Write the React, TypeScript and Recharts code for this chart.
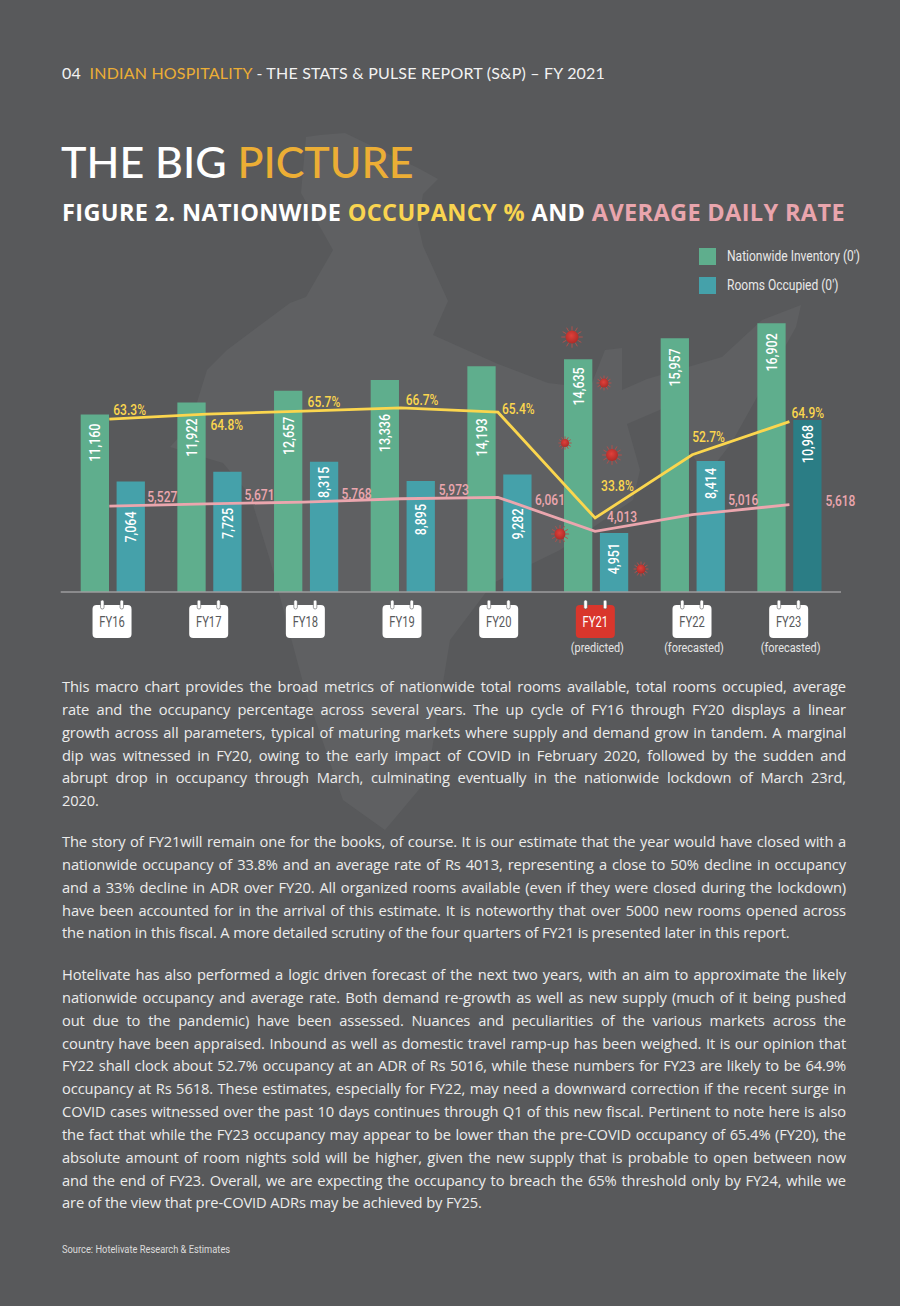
import { Bar, Cell, ComposedChart, Line, XAxis, YAxis } from "recharts"

const years = ["FY16", "FY17", "FY18", "FY19", "FY20", "FY21", "FY22", "FY23"]
const yearNotes = ["", "", "", "", "", "(predicted)", "(forecasted)", "(forecasted)"]
const inventory = [11160, 11922, 12657, 13336, 14193, 14635, 15957, 16902]
// printed figures, and the heights the bars are really drawn at in the report
const occupiedPrinted = [7064, 7725, 8315, 8895, 9282, 4951, 8414, 10968]
const occupiedDrawn = [6950, 7560, 8190, 6980, 7390, 3710, 8240, 10820]
const occupancyPrinted = [63.3, 64.8, 65.7, 66.7, 65.4, 33.8, 52.7, 64.9]
const occupancyDrawn = [63.3, 64.8, 65.7, 66.7, 65.4, 33.8, 52.7, 62.6]
const adr = [5527, 5671, 5768, 5973, 6061, 4013, 5016, 5618]

const paragraphs = [
  [
    "This macro chart provides the broad metrics of nationwide total rooms available, total rooms occupied, average",
    "rate and the occupancy percentage across several years. The up cycle of FY16 through FY20 displays a linear",
    "growth across all parameters, typical of maturing markets where supply and demand grow in tandem. A marginal",
    "dip was witnessed in FY20, owing to the early impact of COVID in February 2020, followed by the sudden and",
    "abrupt drop in occupancy through March, culminating eventually in the nationwide lockdown of March 23rd,",
    "2020.",
  ],
  [
    "The story of FY21will remain one for the books, of course. It is our estimate that the year would have closed with a",
    "nationwide occupancy of 33.8% and an average rate of Rs 4013, representing a close to 50% decline in occupancy",
    "and a 33% decline in ADR over FY20. All organized rooms available (even if they were closed during the lockdown)",
    "have been accounted for in the arrival of this estimate. It is noteworthy that over 5000 new rooms opened across",
    "the nation in this fiscal. A more detailed scrutiny of the four quarters of FY21 is presented later in this report.",
  ],
  [
    "Hotelivate has also performed a logic driven forecast of the next two years, with an aim to approximate the likely",
    "nationwide occupancy and average rate. Both demand re-growth as well as new supply (much of it being pushed",
    "out due to the pandemic) have been assessed. Nuances and peculiarities of the various markets across the",
    "country have been appraised. Inbound as well as domestic travel ramp-up has been weighed. It is our opinion that",
    "FY22 shall clock about 52.7% occupancy at an ADR of Rs 5016, while these numbers for FY23 are likely to be 64.9%",
    "occupancy at Rs 5618. These estimates, especially for FY22, may need a downward correction if the recent surge in",
    "COVID cases witnessed over the past 10 days continues through Q1 of this new fiscal. Pertinent to note here is also",
    "the fact that while the FY23 occupancy may appear to be lower than the pre-COVID occupancy of 65.4% (FY20), the",
    "absolute amount of room nights sold will be higher, given the new supply that is probable to open between now",
    "and the end of FY23. Overall, we are expecting the occupancy to breach the 65% threshold only by FY24, while we",
    "are of the view that pre-COVID ADRs may be achieved by FY25.",
  ],
]

const chartData = years.map((year, i) => ({
  year,
  inventory: inventory[i],
  occupied: occupiedDrawn[i],
  occupancy: occupancyDrawn[i],
  adr: adr[i],
}))

// no condensed face is installed, so Roboto gets squeezed to look like Roboto Condensed
const NARROW = "Roboto, sans-serif"
const BG = "#58595b"
const GREEN = "#5fae8d"
const TEAL = "#45a1aa"
const YELLOW = "#fbd64e"
const PINK = "#eba6ae"
const ORANGE = "#ecae35"

// label placement tweaks, the report sets each one by hand
const inventoryDrop = [9, 16, 26, 34, 52, 8, 10, 10]
const occupiedDrop = [30, 36, 5, 23, 34, 10, 7, 5]
const occupancyOffset = [[4, -9], [4, 11], [4, -9], [5, -8], [4, -3], [6, -32], [0, -18], [2, -8]]
const adrOffset = [[38, -9], [38, -9], [38, -8], [38, -9], [37, 3], [12, -14], [36, -14], [36, -3]]

const mapOutline =
  "320,135 345,133 380,150 418,168 438,179 423,194 418,224 423,246 448,301 433,335 498,364 548,383 590,388 605,350 622,348 622,390 647,379 722,357 762,320 801,305 796,327 767,379 732,442 707,475 682,442 662,409 627,424 640,470 633,500 560,550 493,583 450,640 427,780 385,830 343,800 305,690 270,560 250,495 223,463 170,447 190,425 207,370 227,350 290,303 306,297 333,250 301,193 306,137"

const viruses = [
  [572, 337, 6.5],
  [604, 383, 4.5],
  [565, 443, 4],
  [612, 455, 6],
  [560, 534, 5.5],
  [641, 569, 4.5],
]

const barLabel = (drops: number[], texts: number[]) => (props: any) => {
  const vb = props.viewBox ?? props
  const i = props.index
  const cx = vb.x + vb.width / 2
  const y = vb.y + drops[i]
  return (
    <text
      transform={`translate(${cx} ${y}) rotate(-90) scale(0.86 1)`}
      textAnchor="end"
      dominantBaseline="central"
      fontFamily={NARROW}
      fontWeight={500}
      fontSize={14.5}
      fill="#ffffff"
    >
      {texts[i].toLocaleString("en-US")}
    </text>
  )
}

const lineLabel = (offsets: number[][], texts: string[], fill: string) => (props: any) => {
  const i = props.index
  return (
    <text
      transform={`translate(${props.x + offsets[i][0]} ${props.y + offsets[i][1]}) scale(0.86 1)`}
      dominantBaseline="central"
      fontFamily={NARROW}
      fontWeight={500}
      fontSize={14}
      fill={fill}
    >
      {texts[i]}
    </text>
  )
}

function CalendarTick({ x, y, payload, index }: any) {
  const red = payload.value === "FY21"
  const cx = x - 1
  const note = yearNotes[index]
  return (
    <g>
      <rect x={cx - 19.5} y={y + 11} width={39} height={33} rx={4} fill={red ? "#d9362c" : "#ffffff"} />
      <rect x={cx - 11.5} y={y + 6} width={3.5} height={9} rx={1.7} fill="#ffffff" stroke={BG} strokeWidth={0.6} />
      <rect x={cx + 8} y={y + 6} width={3.5} height={9} rx={1.7} fill="#ffffff" stroke={BG} strokeWidth={0.6} />
      <text
        transform={`translate(${cx} ${y + 28}) scale(0.8 1)`}
        textAnchor="middle"
        dominantBaseline="central"
        fontFamily={NARROW}
        fontSize={14}
        fill={red ? "#ffffff" : "#58595b"}
      >
        {payload.value}
      </text>
      {note && (
        <text
          transform={`translate(${cx + 2} ${y + 54}) scale(0.84 1)`}
          textAnchor="middle"
          dominantBaseline="central"
          fontFamily={NARROW}
          fontSize={13}
          fill="#e6e6e6"
        >
          {note}
        </text>
      )}
    </g>
  )
}

function Virus({ x, y, r }: { x: number; y: number; r: number }) {
  const spikes = [0, 30, 60, 90, 120, 150, 180, 210, 240, 270, 300, 330]
  return (
    <g>
      {spikes.map((a) => {
        const rad = (a * Math.PI) / 180
        return (
          <line
            key={a}
            x1={x + Math.cos(rad) * r}
            y1={y + Math.sin(rad) * r}
            x2={x + Math.cos(rad) * r * 1.65}
            y2={y + Math.sin(rad) * r * 1.65}
            stroke="#b0504c"
            strokeWidth={1}
          />
        )
      })}
      <circle cx={x} cy={y} r={r} fill="url(#virusFill)" />
    </g>
  )
}

function LegendRow({ top, color, text }: { top: number; color: string; text: string }) {
  return (
    <>
      <div style={{ position: "absolute", left: 699, top, width: 17, height: 17, background: color }} />
      <div
        style={{
          position: "absolute",
          left: 727,
          top: top - 1,
          fontFamily: NARROW,
          fontSize: 14.5,
          lineHeight: "19px",
          color: "#e8e8e8",
          whiteSpace: "nowrap",
          transform: "scaleX(0.83)",
          transformOrigin: "left center",
        }}
      >
        {text}
      </div>
    </>
  )
}

export default function App() {
  const paraTops = [675, 830, 963]
  return (
    <div style={{ position: "absolute", left: 0, top: 0, width: 900, height: 1306, background: BG, overflow: "hidden" }}>
      <svg width={900} height={1306} style={{ position: "absolute", left: 0, top: 0 }}>
        <polygon points={mapOutline} fill="#5f6062" />
      </svg>

      <div style={{ position: "absolute", left: 62, top: 62, fontFamily: "Lato, sans-serif", fontSize: 16, lineHeight: "22px", color: "#f2f2f2", whiteSpace: "nowrap", letterSpacing: 0.2 }}>
        04 <span style={{ color: ORANGE }}>&nbsp;INDIAN HOSPITALITY</span> - THE STATS &amp; PULSE REPORT (S&amp;P) – FY 2021
      </div>
      <div style={{ position: "absolute", left: 61, top: 135, fontFamily: "Lato, sans-serif", fontWeight: 500, fontSize: 43, lineHeight: "54px", color: "#ffffff", whiteSpace: "nowrap" }}>
        THE BIG <span style={{ color: ORANGE }}>PICTURE</span>
      </div>
      <div style={{ position: "absolute", left: 62, top: 195, fontFamily: "'Open Sans', sans-serif", fontWeight: 700, fontSize: 23.5, lineHeight: "34px", letterSpacing: 0.36, color: "#ffffff", whiteSpace: "nowrap" }}>
        FIGURE 2. NATIONWIDE <span style={{ color: "#f9d450" }}>OCCUPANCY %</span> AND <span style={{ color: "#e9a5ad" }}>AVERAGE DAILY RATE</span>
      </div>

      <LegendRow top={248} color={GREEN} text="Nationwide Inventory (0')" />
      <LegendRow top={277} color={TEAL} text="Rooms Occupied (0')" />

      <div style={{ position: "absolute", left: 0, top: 280 }}>
        <ComposedChart width={900} height={390} data={chartData} margin={{ top: 20, right: 59, bottom: 18, left: 60.7 }} barSize={28.3} barGap={7.6}>
          <XAxis
            xAxisId="bars"
            dataKey="year"
            padding={{ left: 4, right: 3 }}
            height={60}
            tickSize={0}
            interval={0}
            axisLine={{ stroke: "#9c9c9e", strokeWidth: 1.5 }}
            tickLine={false}
            tick={<CalendarTick />}
          />
          <XAxis xAxisId="lines" dataKey="year" padding={{ left: 0, right: 3 }} hide />
          <YAxis yAxisId="rooms" domain={[0, 18365]} hide />
          <YAxis yAxisId="pct" domain={[11.7, 98.9]} hide />
          <YAxis yAxisId="rate" domain={[357, 17947]} hide />
          <Bar xAxisId="bars" yAxisId="rooms" dataKey="inventory" fill={GREEN} isAnimationActive={false} label={barLabel(inventoryDrop, inventory)} />
          <Bar xAxisId="bars" yAxisId="rooms" dataKey="occupied" fill={TEAL} isAnimationActive={false} label={barLabel(occupiedDrop, occupiedPrinted)}>
            {years.map((y) => (
              <Cell key={y} fill={y === "FY23" ? "#2b7d85" : TEAL} />
            ))}
          </Bar>
          <Line
            xAxisId="lines"
            yAxisId="rate"
            dataKey="adr"
            type="linear"
            stroke={PINK}
            strokeWidth={2.8}
            dot={false}
            isAnimationActive={false}
            label={lineLabel(adrOffset, adr.map((v) => v.toLocaleString("en-US")), PINK)}
          />
          <Line
            xAxisId="lines"
            yAxisId="pct"
            dataKey="occupancy"
            type="linear"
            stroke={YELLOW}
            strokeWidth={2.8}
            dot={false}
            isAnimationActive={false}
            label={lineLabel(occupancyOffset, occupancyPrinted.map((v) => `${v.toFixed(1)}%`), YELLOW)}
          />
        </ComposedChart>
      </div>

      <svg width={900} height={700} style={{ position: "absolute", left: 0, top: 0, pointerEvents: "none" }}>
        <defs>
          <radialGradient id="virusFill" cx="45%" cy="40%" r="65%">
            <stop offset="0%" stopColor="#e0403a" />
            <stop offset="100%" stopColor="#a92a26" />
          </radialGradient>
        </defs>
        {viruses.map(([x, y, r]) => (
          <Virus key={`${x}-${y}`} x={x} y={y} r={r} />
        ))}
      </svg>

      {paragraphs.map((lines, p) => (
        <div key={p} style={{ position: "absolute", left: 62, top: paraTops[p], width: 784, fontFamily: "'Open Sans', sans-serif", fontSize: 14.7, letterSpacing: -0.12, lineHeight: "22.85px", color: "#ececec" }}>
          {lines.map((line, i) => (
            <div key={i} style={{ textAlign: "justify", textAlignLast: i === lines.length - 1 ? "left" : "justify" }}>
              {line}
            </div>
          ))}
        </div>
      ))}

      <div
        style={{
          position: "absolute",
          left: 62,
          top: 1242,
          fontFamily: NARROW,
          fontSize: 11.5,
          lineHeight: "14px",
          color: "#dcdcdc",
          whiteSpace: "nowrap",
          transform: "scaleX(0.81)",
          transformOrigin: "left center",
        }}
      >
        Source: Hotelivate Research &amp; Estimates
      </div>
    </div>
  )
}
